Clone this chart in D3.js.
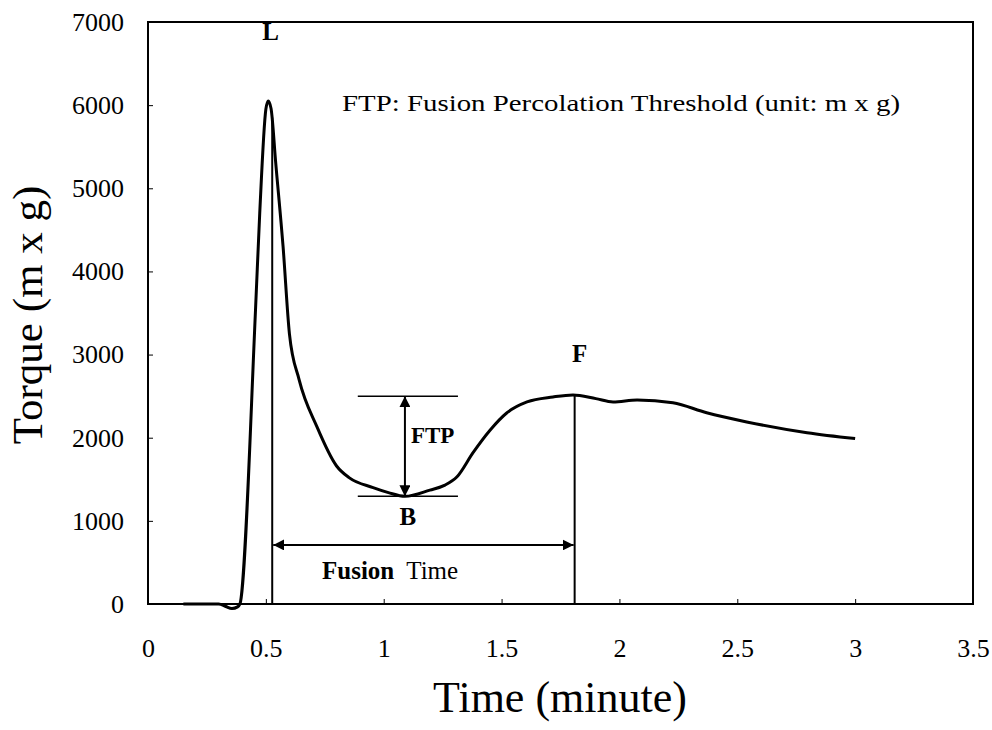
<!DOCTYPE html>
<html>
<head>
<meta charset="utf-8">
<script src="https://cdn.jsdelivr.net/npm/d3@7"></script>
<style>
  body { margin: 0; background: #fff; }
  text { font-family: "Liberation Serif", "Times New Roman", serif; fill: #000; }
</style>
</head>
<body>
<svg class="chart" width="992" height="730"></svg>
<script>
// torque curve (time in minutes, torque in m x g)
const times = [0.15, 0.30, 0.33, 0.356, 0.38, 0.39, 0.456, 0.474, 0.50, 0.51, 0.522, 0.542, 0.573, 0.60,
  0.641, 0.717, 0.80, 0.853, 0.955, 1.02, 1.09, 1.196, 1.26, 1.311, 1.379, 1.451, 1.523, 1.608, 1.718, 1.803,
  1.90, 1.973, 2.075, 2.227, 2.37, 2.54, 2.796, 3.0];
const torque = [0, 0, -30, -55, -35, 0, 3530, 4700, 5950, 6050, 5960, 5300, 4300, 3250,
  2700, 2130, 1660, 1520, 1400, 1340, 1295, 1370, 1430, 1530, 1820, 2090, 2300, 2430, 2490, 2515,
  2470, 2430, 2455, 2420, 2300, 2190, 2060, 1990];

const xTicks = [0, 0.5, 1, 1.5, 2, 2.5, 3, 3.5];
const yTicks = [0, 1000, 2000, 3000, 4000, 5000, 6000, 7000];

// annotation values
const loadingTime = 0.527;   // L
const fusionTime = 1.81;     // F
const minTime = 1.09;        // B
const minTorque = 1295;
const fusionTorque = 2515;
const ftpSpan = [0.89, 1.315];
const arrowTorque = 710;

const svg = d3.select(".chart");
const m = { left: 148, right: 973, top: 22, bottom: 604 };

const x = d3.scaleLinear().domain([0, 3.5]).range([m.left, m.right]);
const y = d3.scaleLinear().domain([0, 7000]).range([m.bottom, m.top]);

const defs = svg.append("defs");
defs.append("marker")
  .attr("id", "arr")
  .attr("viewBox", "0 0 10 10")
  .attr("refX", 10).attr("refY", 5)
  .attr("markerWidth", 11).attr("markerHeight", 11)
  .attr("markerUnits", "userSpaceOnUse")
  .attr("orient", "auto-start-reverse")
  .append("path").attr("d", "M0,0 L10,5 L0,10 Z").attr("fill", "#000");

// frame
svg.append("rect")
  .attr("x", m.left).attr("y", m.top)
  .attr("width", m.right - m.left).attr("height", m.bottom - m.top)
  .attr("fill", "none").attr("stroke", "#000").attr("stroke-width", 2);

// axes with inner ticks
const xAxis = svg.append("g").attr("transform", `translate(0,${m.bottom})`)
  .call(d3.axisBottom(x).tickValues(xTicks).tickSize(-5).tickFormat(d3.format("")));
const yAxis = svg.append("g").attr("transform", `translate(${m.left},0)`)
  .call(d3.axisLeft(y).tickValues(yTicks).tickSize(-5).tickPadding(24).tickFormat(d3.format("")));
[xAxis, yAxis].forEach(a => {
  a.select(".domain").remove();
  a.selectAll(".tick line").attr("stroke", "#000").attr("stroke-width", 1);
  a.selectAll("text").style("font-family", "Liberation Serif").attr("font-size", 26).attr("fill", "#000");
});
xAxis.selectAll("text").attr("y", 53).attr("dy", 0);

// curve
const pts = times.map((t, i) => [t, torque[i]]);
svg.append("path")
  .datum(pts)
  .attr("fill", "none").attr("stroke", "#000").attr("stroke-width", 3)
  .attr("stroke-linejoin", "round")
  .attr("d", d3.line().x(d => x(d[0])).y(d => y(d[1])).curve(d3.curveMonotoneX));

// vertical markers
const lTop = 5850;
svg.append("line").attr("x1", x(loadingTime)).attr("x2", x(loadingTime))
  .attr("y1", y(0)).attr("y2", y(lTop)).attr("stroke", "#000").attr("stroke-width", 2);
svg.append("line").attr("x1", x(fusionTime)).attr("x2", x(fusionTime))
  .attr("y1", y(0)).attr("y2", y(fusionTorque)).attr("stroke", "#000").attr("stroke-width", 2);

// FTP horizontal lines and double arrow
[fusionTorque - 15, minTorque].forEach(v => {
  svg.append("line").attr("x1", x(ftpSpan[0])).attr("x2", x(ftpSpan[1]))
    .attr("y1", y(v)).attr("y2", y(v)).attr("stroke", "#000").attr("stroke-width", 1.5);
});
svg.append("line").attr("x1", x(minTime)).attr("x2", x(minTime))
  .attr("y1", y(fusionTorque - 15)).attr("y2", y(minTorque))
  .attr("stroke", "#000").attr("stroke-width", 2)
  .attr("marker-start", "url(#arr)").attr("marker-end", "url(#arr)");

// fusion time arrow
svg.append("line").attr("x1", x(loadingTime) + 1).attr("x2", x(fusionTime) - 1)
  .attr("y1", y(arrowTorque)).attr("y2", y(arrowTorque))
  .attr("stroke", "#000").attr("stroke-width", 2)
  .attr("marker-start", "url(#arr)").attr("marker-end", "url(#arr)");

// labels
const label = (tx, ty, s, size, weight, anchor) => svg.append("text")
  .attr("x", tx).attr("y", ty).attr("font-size", size)
  .attr("font-weight", weight || "normal").attr("text-anchor", anchor || "middle").text(s);

label(x(0.52), 40, "L", 25, "bold");
label(x(fusionTime) + 5, 362, "F", 25, "bold");
label(x(minTime) + 3, 525, "B", 25, "bold");
label(x(minTime) + 6, 443, "FTP", 23, "bold", "start");
label(342, 111, "FTP: Fusion Percolation Threshold (unit: m x g)", 23, "normal", "start")
  .attr("textLength", 558).attr("lengthAdjust", "spacingAndGlyphs");

const ft = svg.append("text").attr("x", 322).attr("y", 579).attr("font-size", 25);
ft.append("tspan").attr("font-weight", "bold").text("Fusion");
ft.append("tspan").attr("dx", 12).text("Time");

// axis titles
label(560, 712, "Time (minute)", 44);
svg.append("text")
  .attr("transform", "translate(42,315) rotate(-90)")
  .attr("text-anchor", "middle").attr("font-size", 43)
  .text("Torque (m x g)");
</script>
</body>
</html>
